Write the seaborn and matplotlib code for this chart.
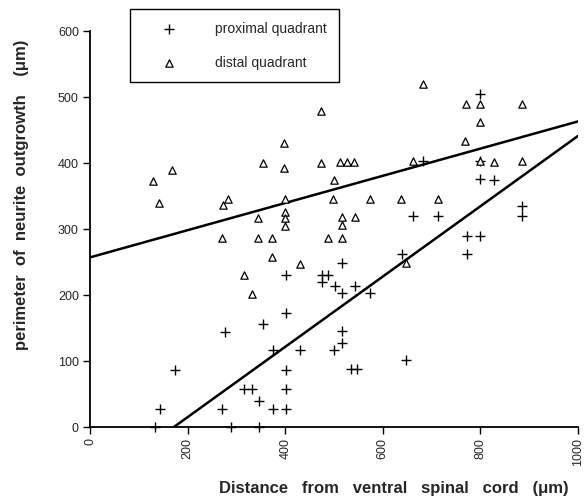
import matplotlib
matplotlib.use("Agg")
import matplotlib.pyplot as plt
import seaborn as sns
import numpy as np

# proximal quadrant (+)
prox_x = [799, 683, 799, 799, 828, 886, 886, 662, 714, 772, 800, 772, 639, 516, 401, 476, 487,
          476, 503, 544, 516, 573, 401, 355, 276, 516, 516, 374, 430, 500, 535, 548, 647, 174,
          401, 316, 332, 401, 346, 144, 271, 374, 401, 133, 289, 346]
prox_y = [504, 403, 403, 376, 375, 335, 319, 319, 319, 290, 290, 262, 262, 249, 230, 231, 231,
          219, 214, 214, 203, 203, 172, 156, 144, 146, 128, 116, 116, 116, 88, 88, 102, 86,
          86, 58, 58, 58, 40, 28, 28, 28, 28, 0, 0, 0]

# distal quadrant (triangles)
dist_x = [130, 169, 141, 283, 273, 473, 398, 355, 398, 473, 512, 527, 541, 501, 400, 400, 400,
          400, 497, 573, 638, 661, 683, 770, 799, 886, 799, 768, 799, 828, 886, 714, 344, 270,
          344, 372, 487, 516, 372, 430, 316, 332, 516, 516, 543, 647]
dist_y = [372, 390, 339, 345, 337, 479, 431, 400, 393, 400, 401, 401, 401, 375, 345, 326, 316,
          305, 345, 345, 345, 403, 519, 490, 490, 490, 462, 434, 403, 402, 403, 345, 316, 287,
          287, 287, 287, 287, 258, 247, 230, 201, 318, 306, 318, 249]

# regression lines
dist_fit_x = [0, 1000]
dist_fit_y = [257, 463]
prox_fit_x = [172, 1000]
prox_fit_y = [0, 441]

x_ticks = [0, 200, 400, 600, 800, 1000]
y_ticks = [0, 100, 200, 300, 400, 500, 600]

sns.set_style("white")
plt.rcParams['font.family'] = ['Liberation Sans', 'DejaVu Sans']

fig = plt.figure(figsize=(5.85, 5.04), dpi=100)
ax = fig.add_axes([90/585, 1-427/504, 488/585, 396/504])

sns.lineplot(x=dist_fit_x, y=dist_fit_y, color='black', lw=1.8, ax=ax)
sns.lineplot(x=prox_fit_x, y=prox_fit_y, color='black', lw=1.8, ax=ax)

sns.scatterplot(x=prox_x, y=prox_y, marker='+', color='black', s=60, linewidth=1.0,
                ax=ax, label='proximal quadrant', clip_on=False, zorder=3)
sns.scatterplot(x=dist_x, y=dist_y, marker='^', facecolor='white', edgecolor='black',
                s=28, linewidth=0.9, ax=ax, label='distal quadrant', clip_on=False, zorder=3)

ax.set_xlim(0, 1000)
ax.set_ylim(0, 600)
ax.set_xticks(x_ticks)
ax.set_yticks(y_ticks)
ax.set_xticklabels([str(v) for v in x_ticks], rotation=90, fontsize=9)
ax.set_yticklabels([str(v) for v in y_ticks], fontsize=9)
ax.tick_params(axis='both', direction='out', length=5, width=1, color='black',
               bottom=True, left=True, pad=3)

for s in ['top', 'right']:
    ax.spines[s].set_visible(False)
for s in ['left', 'bottom']:
    ax.spines[s].set_color('black')
    ax.spines[s].set_linewidth(1.3)

ax.set_xlabel('Distance   from   ventral   spinal   cord   (\u03bcm)', fontsize=12, fontweight='bold')
ax.set_ylabel('perimeter  of  neurite  outgrowth    (\u03bcm)', fontsize=12, fontweight='bold')
ax.xaxis.set_label_coords((394-90)/488, (427-481)/396)
ax.yaxis.set_label_coords((29-90)/488, (427-195)/396)

leg = ax.legend(loc='upper left', bbox_to_anchor=(130/585, 1-9/504),
                bbox_transform=fig.transFigure, fontsize=10, frameon=True,
                fancybox=False, framealpha=1, edgecolor='black', borderpad=0.9,
                borderaxespad=0, handlelength=3.8, handletextpad=1.4, labelspacing=1.44)
leg.get_frame().set_linewidth(1.0)

fig.savefig('out.png', dpi=100)
